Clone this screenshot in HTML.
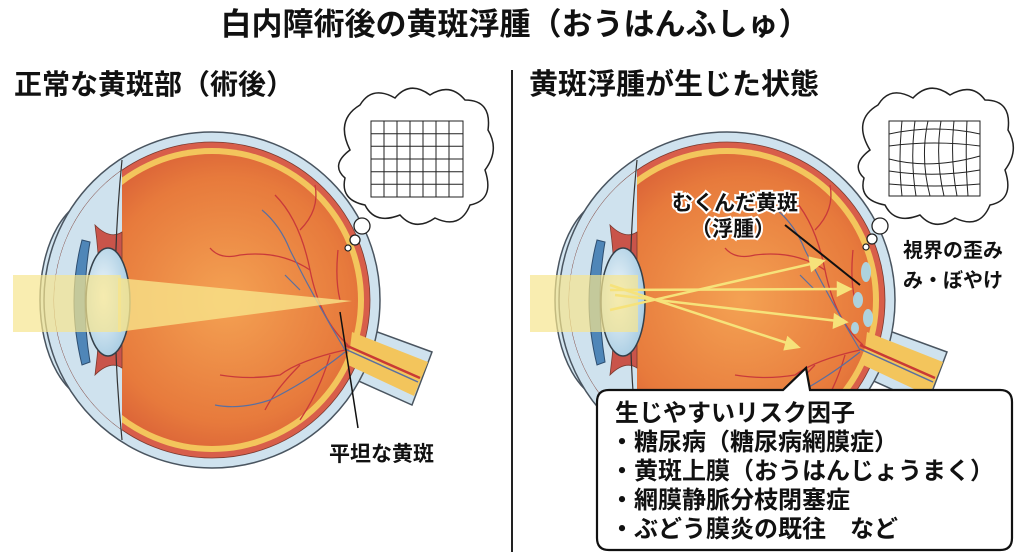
<!DOCTYPE html>
<html><head><meta charset="utf-8"><style>
html,body{margin:0;padding:0;background:#fff;}
svg{display:block;}
text{font-family:"Liberation Sans","Noto Sans CJK JP",sans-serif;font-weight:bold;fill:#111;}
</style></head><body>
<svg width="1024" height="559" viewBox="0 0 1024 559" xmlns="http://www.w3.org/2000/svg">
<defs>
<radialGradient id="vit" cx="0.55" cy="0.5" r="0.6">
<stop offset="0" stop-color="#f4a253"/><stop offset="0.7" stop-color="#e77a3c"/><stop offset="1" stop-color="#d65a36"/>
</radialGradient>
<radialGradient id="lens" cx="0.4" cy="0.45" r="0.6">
<stop offset="0" stop-color="#f2f8fb"/><stop offset="1" stop-color="#a9cde3"/>
</radialGradient>
<clipPath id="cl"><circle cx="212" cy="300" r="158"/></clipPath>
<g id="eye">
<ellipse cx="98" cy="300" rx="58" ry="102" fill="#d4e6f1" stroke="#4a5560" stroke-width="1.5"/>
<ellipse cx="104" cy="300" rx="50" ry="96" fill="none" stroke="#6a7a88" stroke-width="1"/>
<path d="M350,322 L432,352 L412,405 L343,374 Z" fill="#cfe2ee" stroke="#4a5560" stroke-width="1.5"/>
<circle cx="212" cy="300" r="168" fill="#cfe2ee" stroke="#4a5560" stroke-width="1.5"/>
<circle cx="212" cy="300" r="158" fill="#d85e4a" stroke="#7a3a30" stroke-width="0.8"/>
<circle cx="212" cy="300" r="152" fill="#f3c55c"/>
<circle cx="212" cy="300" r="146" fill="url(#vit)"/>
<path d="M352,332 L428,362 L414,396 L348,365 Z" fill="#f3c55c"/>
<path d="M345,345 L420,378" stroke="#c93a35" stroke-width="2.5"/>
<path d="M345,349 L418,382" stroke="#5a6fa0" stroke-width="1.5"/>
<g clip-path="url(#cl)">
<rect x="40" y="130" width="82" height="340" fill="#cfe2ee"/>
<path d="M95,225 Q110,240 122,232 L122,368 Q110,360 95,375 Q105,300 95,225Z" fill="#c9544a" stroke="#7a3a30" stroke-width="0.8"/>
</g>
<path d="M122,160 Q108,300 122,440" fill="none" stroke="#333" stroke-width="1.2"/>
<path d="M82,240 Q66,300 82,365 L90,362 Q80,300 90,242Z" fill="#4f86b8" stroke="#2e4e70" stroke-width="1"/>
<ellipse cx="108" cy="302" rx="22" ry="54" fill="url(#lens)" stroke="#34404a" stroke-width="1.5"/>
<g fill="none" stroke="#c9393a" stroke-width="1.3">
<path d="M348,345 Q320,320 310,270 Q300,220 275,195"/>
<path d="M310,270 Q280,250 240,255 Q220,260 210,248"/>
<path d="M300,230 Q320,210 315,185"/>
<path d="M345,350 Q300,360 280,375 Q250,380 220,375"/>
<path d="M300,365 Q275,390 265,410"/>
<path d="M330,355 Q320,390 300,420"/>
<path d="M340,300 Q335,280 338,250"/>
</g>
<g fill="none" stroke="#5a6fa0" stroke-width="1.2">
<path d="M345,350 Q315,300 290,250 Q280,225 262,210"/>
<path d="M345,352 Q310,380 270,400 Q240,410 215,405"/>
<path d="M300,290 Q290,280 285,275"/>
</g>
</g>
</defs>

<text x="515" y="35" font-size="31" text-anchor="middle">白内障術後の黄斑浮腫（おうはんふしゅ）</text>
<text x="14" y="94" font-size="28">正常な黄斑部（術後）</text>
<text x="529" y="94" font-size="29">黄斑浮腫が生じた状態</text>
<line x1="512" y1="70" x2="512" y2="552" stroke="#222" stroke-width="2"/>

<!-- left eye -->
<use href="#eye"/>
<rect x="13" y="275" width="108" height="57" fill="#f6e58e" opacity="0.7"/>
<polygon points="118,278 352,301 118,332" fill="#f8e48a" opacity="0.8"/>
<line x1="340" y1="312" x2="358" y2="428" stroke="#111" stroke-width="1.5"/>
<text x="329" y="461" font-size="21">平坦な黄斑</text>
<!-- left cloud -->
<path d="M350,150 Q335,120 360,105 Q372,85 395,98 Q410,80 430,95 Q450,82 465,100 Q492,100 488,130 Q500,150 485,170 Q495,200 470,205 Q460,230 435,218 Q415,232 400,215 Q375,225 365,205 Q340,200 345,178 Q330,165 350,150Z" fill="#fff" stroke="#222" stroke-width="1.5"/>
<g stroke="#222" stroke-width="1" fill="none">
<rect x="371" y="121" width="92" height="76"/>
<path d="M384,121V197M397,121V197M410,121V197M423,121V197M436,121V197M449,121V197M371,133.7H463M371,146.3H463M371,159H463M371,171.7H463M371,184.3H463"/>
</g>
<circle cx="362" cy="226" r="8" fill="#fff" stroke="#222" stroke-width="1.3"/>
<circle cx="355" cy="240" r="5" fill="#fff" stroke="#222" stroke-width="1.3"/>
<circle cx="348" cy="248" r="3" fill="#fff" stroke="#222" stroke-width="1.2"/>

<!-- right eye -->
<use href="#eye" transform="translate(515,0)"/>
<rect x="530" y="275" width="108" height="57" fill="#f6e58e" opacity="0.7"/>
<g fill="#a8dcef" opacity="0.9">
<ellipse cx="866" cy="272" rx="5" ry="10"/>
<ellipse cx="858" cy="300" rx="5" ry="8"/>
<ellipse cx="868" cy="318" rx="5" ry="9"/>
<ellipse cx="855" cy="328" rx="4" ry="6"/>
</g>
<g stroke="#f6e27a" stroke-width="2.5" fill="#f6e27a">
<line x1="610" y1="310" x2="815" y2="263"/><polygon points="823,261 810,258 812,270"/>
<line x1="610" y1="290" x2="842" y2="289"/><polygon points="850,289 838,283 838,295"/>
<line x1="615" y1="295" x2="838" y2="321"/><polygon points="846,322 835,315 834,327"/>
<line x1="610" y1="285" x2="790" y2="344"/><polygon points="798,347 788,338 785,349"/>
</g>
<line x1="785" y1="225" x2="860" y2="285" stroke="#111" stroke-width="2"/>
<g font-size="21" stroke="#fff" stroke-width="4" paint-order="stroke" text-anchor="middle">
<text x="735" y="210">むくんだ黄斑</text>
<text x="733" y="236">（浮腫）</text>
</g>
<text x="903" y="257" font-size="20">視界の歪み</text>
<text x="903" y="287" font-size="20">み・ぼやけ</text>
<!-- right cloud -->
<path d="M870,150 Q852,120 878,105 Q890,85 913,98 Q930,80 950,95 Q972,82 985,100 Q1012,100 1008,130 Q1020,150 1005,170 Q1015,200 990,205 Q980,230 955,218 Q935,232 920,215 Q895,225 885,205 Q858,200 864,178 Q850,165 870,150Z" fill="#fff" stroke="#222" stroke-width="1.5"/>
<g stroke="#222" stroke-width="1" fill="none">
<rect x="889" y="121" width="91" height="75"/>
<path d="M902,121 Q898,160 902,196M915,121 Q910,160 916,196M928,121 Q920,158 930,196M941,121 Q935,158 944,196M954,121 Q950,160 957,196M967,121 Q965,160 968,196"/>
<path d="M889,134 Q935,124 980,134M889,146 Q935,140 980,146M889,159 Q930,170 980,156M889,171 Q935,178 980,170M889,184 Q935,188 980,184"/>
</g>
<circle cx="880" cy="226" r="8" fill="#fff" stroke="#222" stroke-width="1.3"/>
<circle cx="872" cy="239" r="5" fill="#fff" stroke="#222" stroke-width="1.3"/>
<circle cx="866" cy="247" r="3" fill="#fff" stroke="#222" stroke-width="1.2"/>

<!-- risk box -->
<path d="M609,390 L783,390 L806,368 L810,390 L1000,390 Q1012,390 1012,402 L1012,538 Q1012,550 1000,550 L609,550 Q597,550 597,538 L597,402 Q597,390 609,390Z" fill="#fff" stroke="#111" stroke-width="2.2"/>
<text x="615" y="421" font-size="24">生じやすいリスク因子</text>
<text x="610" y="450" font-size="24">・糖尿病（糖尿病網膜症）</text>
<text x="610" y="479" font-size="24">・黄斑上膜（おうはんじょうまく）</text>
<text x="610" y="508" font-size="24">・網膜静脈分枝閉塞症</text>
<text x="610" y="537" font-size="24">・ぶどう膜炎の既往　など</text>
</svg>
</body></html>
